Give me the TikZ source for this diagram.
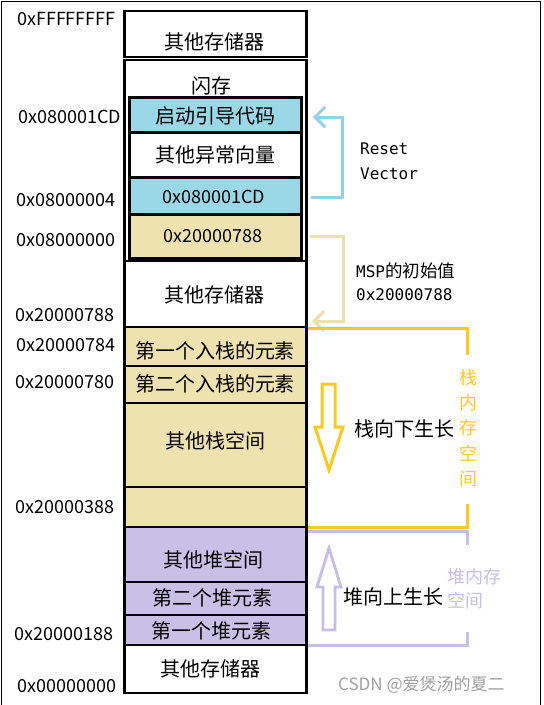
\documentclass[tikz,border=0pt]{standalone}
\usepackage{fontspec}
\setmainfont{Noto Sans CJK SC}
\newfontfamily\monofnt{DejaVu Sans Mono}
\usetikzlibrary{arrows.meta}
\definecolor{cy}{HTML}{9AD8E8}
\definecolor{tn}{HTML}{EEE2B0}
\definecolor{pp}{HTML}{C8C0E6}
\definecolor{cyl}{HTML}{92D2E8}
\definecolor{tnl}{HTML}{EDE0B0}
\definecolor{gd}{HTML}{FFC820}
\definecolor{ppl}{HTML}{C6BEE6}
\definecolor{wm}{HTML}{A0A0A0}
\begin{document}
\begin{tikzpicture}[x=1pt,y=-1pt,
  blk/.style={draw=black, line width=2.5pt},
  cn/.style={font=\fontsize{20}{20}\selectfont, inner sep=0},
  addr/.style={font=\fontsize{18}{18}\selectfont, anchor=west, inner sep=0},
  mono/.style={font=\monofnt\fontsize{16}{16}\selectfont, anchor=west, inner sep=0},
  brk/.style={line width=3pt, line join=miter},
  tipL/.style={-{Straight Barb[length=10pt,width=20pt,line width=3pt]}}
]
\useasboundingbox (0,0) rectangle (544,705);
% outer frame
\draw[line width=1pt] (1.5,705) -- (1.5,1.5) -- (540.5,1.5) -- (540.5,705);

% memory column
\draw[blk, fill=white] (124.5,11) rectangle (306.5,57);
\draw[blk, fill=white] (124.5,60) rectangle (306.5,261);
\draw[blk, fill=cy] (129.5,97.5) rectangle (301.5,132.5);
\draw[blk, fill=white] (129.5,132.5) rectangle (301.5,177.5);
\draw[blk, fill=cy] (129.5,177.5) rectangle (301.5,214.5);
\draw[blk, fill=tn] (129.5,214.5) rectangle (301.5,258.5);
\draw[draw=black, line width=3pt] (129.5,97.5) rectangle (301.5,258.5);
\draw[blk, fill=white] (124.5,261) rectangle (306.5,327);
\draw[blk, fill=tn] (124.5,327) rectangle (306.5,366);
\draw[blk, fill=tn] (124.5,366) rectangle (306.5,403);
\draw[blk, fill=tn] (124.5,403) rectangle (306.5,487);
\draw[blk, fill=tn] (124.5,487) rectangle (306.5,527);
\draw[blk, fill=pp] (124.5,527) rectangle (306.5,582);
\draw[blk, fill=pp] (124.5,582) rectangle (306.5,615);
\draw[blk, fill=pp] (124.5,615) rectangle (306.5,645);
\draw[blk, fill=white] (124.5,645) rectangle (306.5,693);

% box texts
\node[cn] (t1) at (214,42) {其他存储器};
\node[cn] (t2) at (211,86) {闪存};
\node[cn] (t3) at (215,116) {启动引导代码};
\node[cn] (t4) at (215,155) {其他异常向量};
\node[cn, font=\fontsize{18}{18}\selectfont] (t5) at (214,197) {0x080001CD};
\node[cn, font=\fontsize{18}{18}\selectfont] (t6) at (213,236) {0x20000788};
\node[cn] (t7) at (214,295) {其他存储器};
\node[cn] (t8) at (215,351) {第一个入栈的元素};
\node[cn] (t9) at (215,384) {第二个入栈的元素};
\node[cn] (t10) at (215,441) {其他栈空间};
\node[cn] (t11) at (213,560) {其他堆空间};
\node[cn] (t12) at (212,598) {第二个堆元素};
\node[cn] (t13) at (211,631) {第一个堆元素};
\node[cn] (t14) at (210,669) {其他存储器};

% addresses
\node[addr] (a1) at (17,19) {0xFFFFFFFF};
\node[addr] (a2) at (18,117) {0x080001CD};
\node[addr] (a3) at (16,200) {0x08000004};
\node[addr] (a4) at (16,240) {0x08000000};
\node[addr] (a5) at (15,315) {0x20000788};
\node[addr] (a6) at (16,345) {0x20000784};
\node[addr] (a7) at (15,382) {0x20000780};
\node[addr] (a8) at (15,507) {0x20000388};
\node[addr] (a9) at (14,634) {0x20000188};
\node[addr] (a10) at (17,686) {0x00000000};

% reset vector bracket
\coordinate (rvA) at (311,197);
\coordinate (rvB) at (342,197);
\coordinate (rvC) at (342,117);
\coordinate (rvD) at (313,117);
\draw[brk, cyl, tipL] (rvA) -- (rvB) -- (rvC) -- (rvD);
\node[mono] (rs1) at (360,149) {Reset};
\node[mono] (rs2) at (360,174) {Vector};

% MSP bracket
\coordinate (msA) at (310,236);
\coordinate (msB) at (343,236);
\coordinate (msC) at (343,321);
\coordinate (msD) at (312,321);
\draw[brk, tnl, tipL] (msA) -- (msB) -- (msC) -- (msD);
\node[anchor=west, inner sep=0, font=\fontsize{17.5}{17.5}\selectfont] (msp1) at (356,271) {{\monofnt\fontsize{16}{16}\selectfont MSP}的初始值};
\node[mono] (msp2) at (356,295) {0x20000788};

% stack bracket
\draw[brk, gd] (467,355) -- (467,328) -- (308,328);
\draw[brk, gd] (467,504) -- (467,527) -- (308,527);
\node[inner sep=0, font=\fontsize{18}{25.2}\selectfont, text=gd, align=center] (stk) at (468,428) {栈\\内\\存\\空\\间};
% heap bracket
\draw[brk, ppl] (467,545) -- (467,531) -- (308,531);
\draw[brk, ppl] (467,632) -- (467,645) -- (308,645);
\node[anchor=west, inner sep=0, font=\fontsize{18}{24}\selectfont, text=ppl, align=left] (hp) at (447,589) {堆内存\\空间};

% growth arrows
\draw[brk, gd, line width=3pt] (322,384) -- (335,384) -- (335,427) -- (343,427) -- (329,470) -- (315,427) -- (322,427) -- cycle;
\node[cn] (sg) at (404,429) {栈向下生长};
\draw[brk, ppl, line width=2.8pt] (323,630) -- (335,630) -- (335,587) -- (341,587) -- (329,548) -- (317,587) -- (323,587) -- cycle;
\node[cn] (hg) at (393,597) {堆向上生长};

% watermark
\node[anchor=west, inner sep=0, font=\fontsize{17}{17}\selectfont, text=wm] (wmk) at (338,685) {CSDN @爱煲汤的夏二};
\end{tikzpicture}
\end{document}
